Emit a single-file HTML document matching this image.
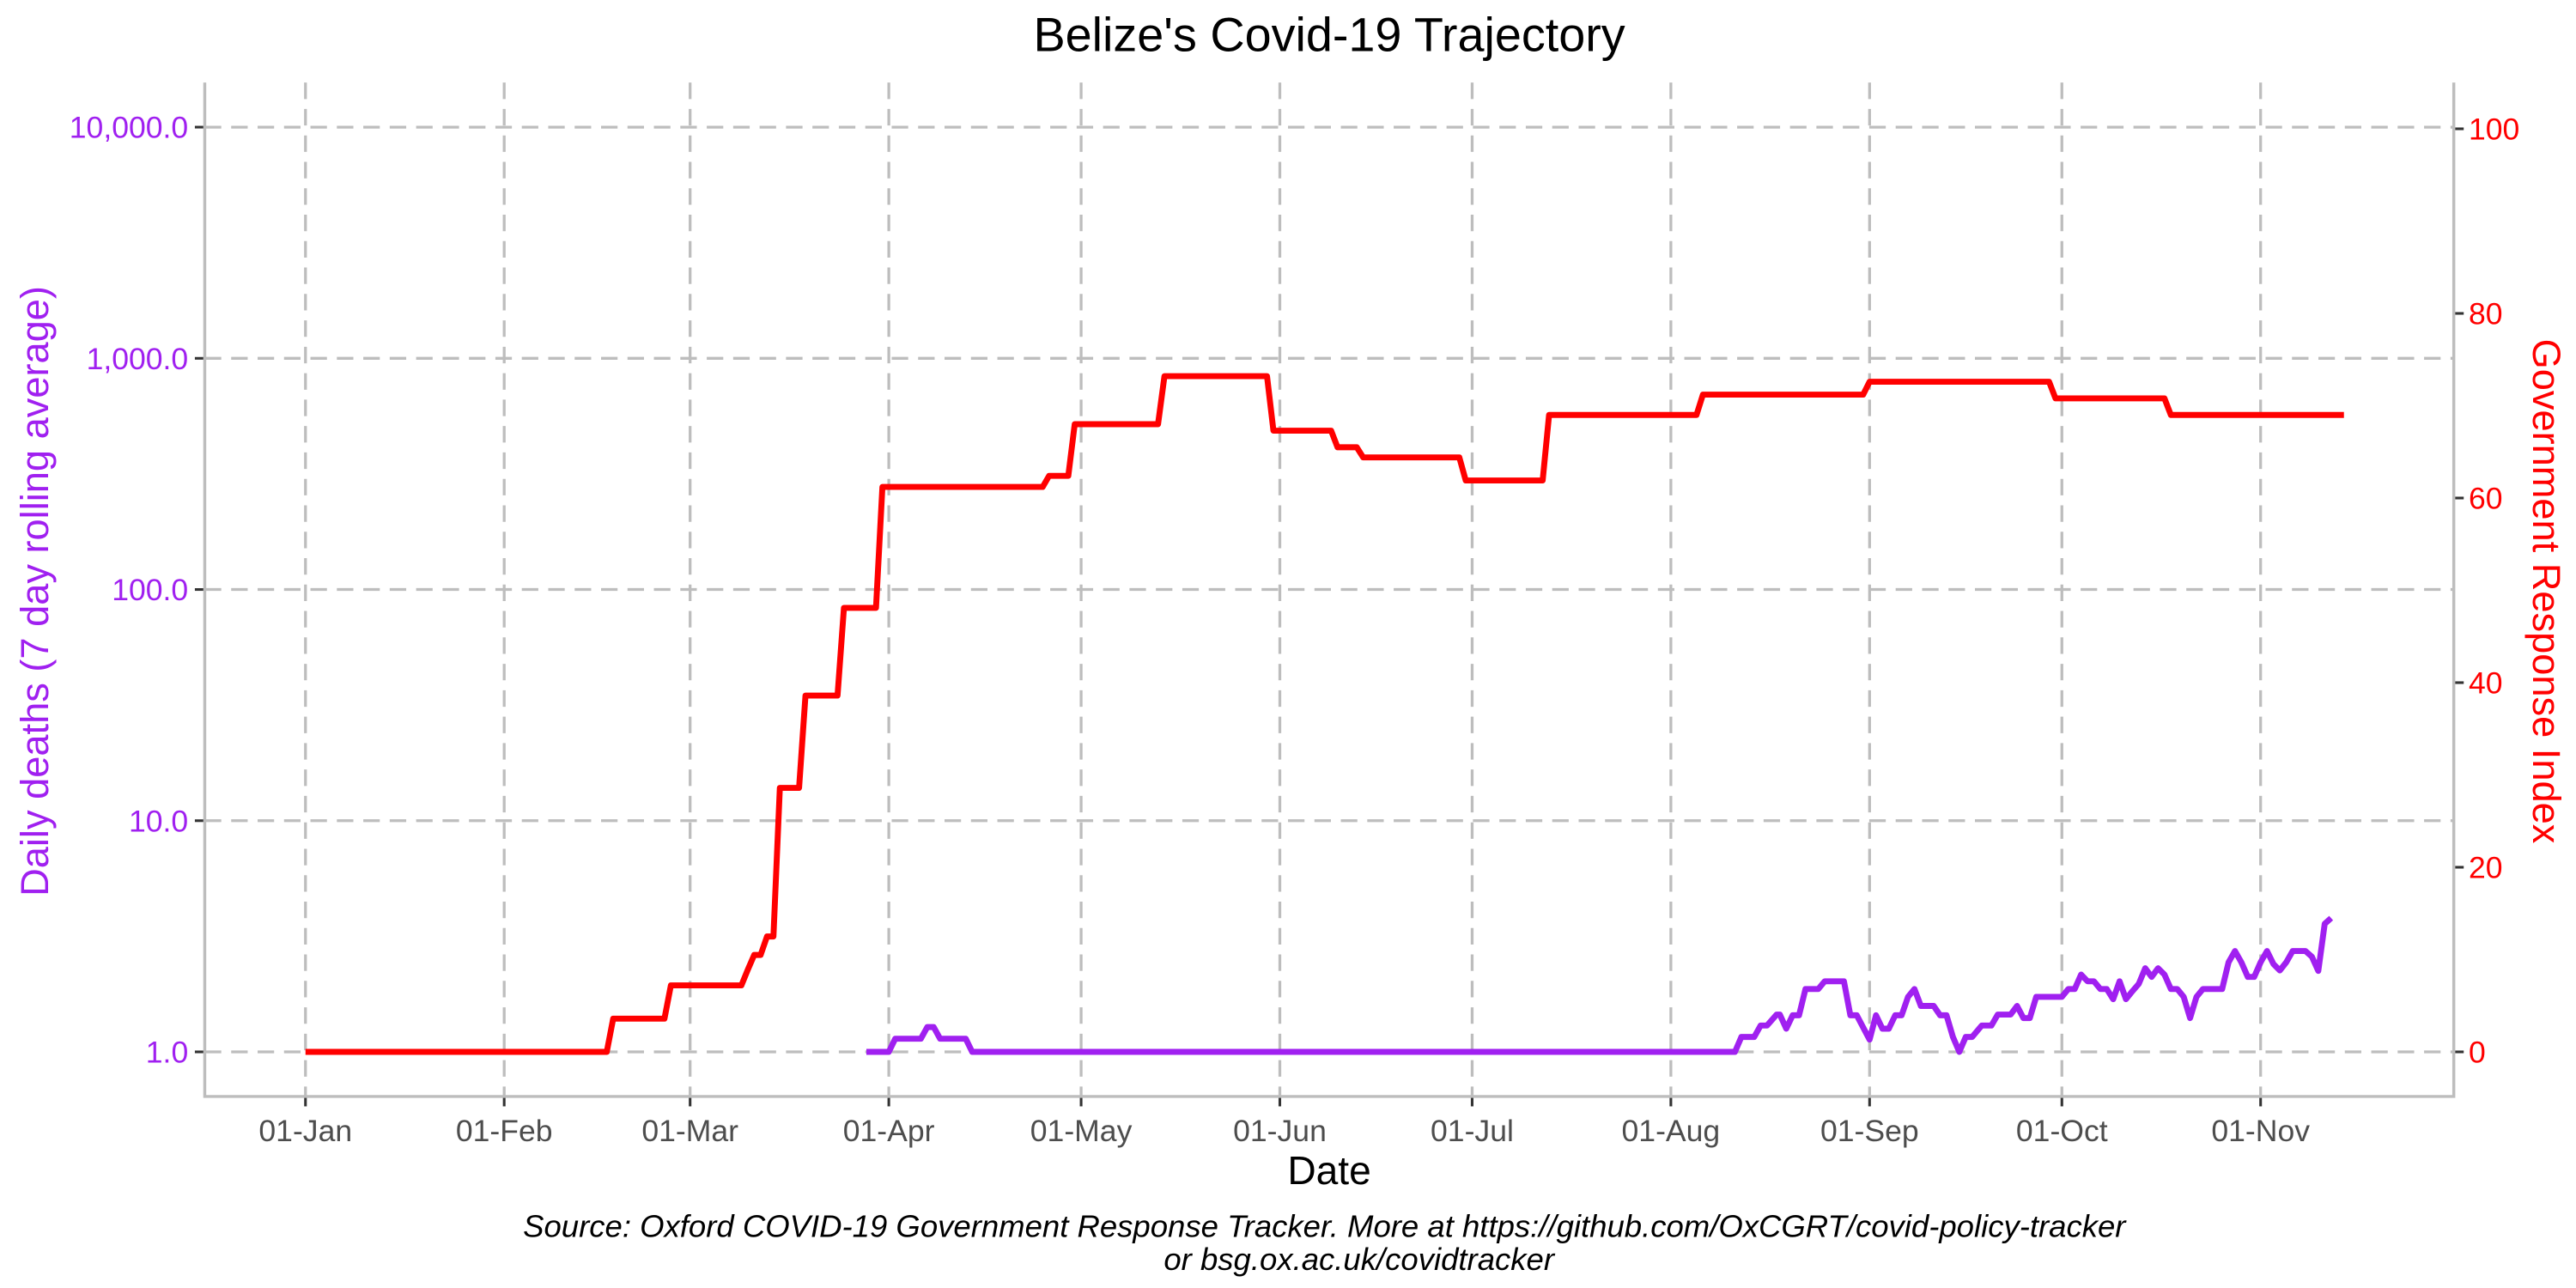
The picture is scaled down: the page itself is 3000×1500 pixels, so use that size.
<!DOCTYPE html>
<html><head><meta charset="utf-8"><style>
html,body{margin:0;padding:0;background:#fff;}
svg{display:block;font-family:"Liberation Sans",sans-serif;}
</style></head><body>
<svg id="chart" width="3000" height="1500" viewBox="0 0 1560 780" xmlns="http://www.w3.org/2000/svg">
<g id="grid"></g>
<g id="axes"></g>
<g id="series"></g>
<text x="805" y="31" font-size="29" text-anchor="middle" fill="#000">Belize's Covid-19 Trajectory</text>
<text x="805" y="717" font-size="24" text-anchor="middle" fill="#000">Date</text>
<text transform="translate(29,358) rotate(-90)" font-size="23.5" text-anchor="middle" fill="#a020f0">Daily deaths (7 day rolling average)</text>
<text transform="translate(1534,358) rotate(90)" font-size="23.5" text-anchor="middle" fill="#ff0000">Government Response Index</text>
<text x="802" y="749" font-size="19" font-style="italic" text-anchor="middle" fill="#000">Source: Oxford COVID-19 Government Response Tracker. More at https://github.com/OxCGRT/covid-policy-tracker</text>
<text x="823" y="769" font-size="19" font-style="italic" text-anchor="middle" fill="#000">or bsg.ox.ac.uk/covidtracker</text>
</svg>
<script>
// x ticks: day of year (2020) and label
const xTickDays = [0,31,60,91,121,152,182,213,244,274,305];
const xTickLabels = ["01-Jan","01-Feb","01-Mar","01-Apr","01-May","01-Jun","01-Jul","01-Aug","01-Sep","01-Oct","01-Nov"];
const leftTickValues = [1,10,100,1000,10000];
const leftTickLabels = ["1.0","10.0","100.0","1,000.0","10,000.0"];
const rightTickValues = [0,20,40,60,80,100];
// Stringency index: step changes (day of year, value)
const stringencyDays = [0,48,57,69,70,72,74,78,84,90,116,120,134,151,161,165,181,194,218,244,273,291,318];
const stringencyValues = [0,3.6,7.2,8.9,10.5,12.5,28.6,38.6,48.1,61.2,62.4,68.0,73.2,67.3,65.5,64.4,61.9,69.0,71.2,72.6,70.8,69.0,69.0];
// Daily deaths 7-day avg (day of year, value)
const deathDays = [87.5,91,92,96,97,98,99,103,104,223,224,226,227,228,229.5,230,231,232,233,234,236,237,240,241,242,244,245,246,247,248,249,250,251,252,254,255,256,257,258,259,260,261.5,263,264,266,267,268,269,270,274,275,276,277,278,279,280,281,282,283,284,285,286,287,288,289,290,291,292,293,294,295,296,299,300,301,302,303,304,305,306,307,308,309,310,312,313,314,315,316];
const deathValues = [1,1,1.14,1.14,1.28,1.28,1.14,1.14,1,1,1.16,1.16,1.30,1.30,1.45,1.45,1.26,1.44,1.44,1.87,1.87,2.02,2.02,1.44,1.44,1.13,1.44,1.26,1.26,1.44,1.44,1.73,1.87,1.58,1.58,1.44,1.44,1.16,1.0,1.16,1.16,1.30,1.30,1.45,1.45,1.58,1.40,1.40,1.73,1.73,1.87,1.87,2.16,2.02,2.02,1.87,1.87,1.69,2.02,1.69,1.83,1.97,2.30,2.11,2.30,2.16,1.87,1.87,1.73,1.40,1.73,1.87,1.87,2.44,2.73,2.44,2.11,2.11,2.44,2.73,2.40,2.25,2.44,2.73,2.73,2.58,2.24,3.58,3.79];

const NS="http://www.w3.org/2000/svg";
const L=124,R=1486,T=50,B=664;
const xS=d=>185+d*(1184/305);
const yLog=v=>637-140*Math.log10(v);
const yR=v=>637-v*5.59;
function mk(tag,attrs,parent){const e=document.createElementNS(NS,tag);for(const k in attrs)e.setAttribute(k,attrs[k]);parent.appendChild(e);return e;}
const grid=document.getElementById('grid'),axes=document.getElementById('axes'),series=document.getElementById('series');
const gstyle={stroke:"#bdbdbd","stroke-width":1.7,"stroke-dasharray":"10,6",fill:"none"};
xTickDays.forEach((d,i)=>{
  const x=xS(d);
  const g=mk('line',Object.assign({x1:x,x2:x,y1:T,y2:B},gstyle),grid);
  
  
  const t=mk('line',{x1:x,x2:x,y1:B,y2:B+6,stroke:"#333","stroke-width":1.6},axes);
  
  
  const lb=mk('text',{x:x,y:B+27,"font-size":18.5,"text-anchor":"middle",fill:"#4d4d4d"},axes);
  lb.textContent=xTickLabels[i];
  
  
});
leftTickValues.forEach((v,i)=>{
  const y=yLog(v);
  const g=mk('line',Object.assign({x1:L,x2:R,y1:y,y2:y},gstyle),grid);
  
  
  const t=mk('line',{x1:L-6,x2:L,y1:y,y2:y,stroke:"#333","stroke-width":1.6},axes);
  
  
  const lb=mk('text',{x:L-10,y:y+6.5,"font-size":18.5,"text-anchor":"end",fill:"#a020f0"},axes);
  lb.textContent=leftTickLabels[i];
  
  
});
rightTickValues.forEach(v=>{
  const y=yR(v);
  const t=mk('line',{x1:R,x2:R+6,y1:y,y2:y,stroke:"#333","stroke-width":1.6},axes);
  
  
  const lb=mk('text',{x:R+9,y:y+6.5,"font-size":18.5,"text-anchor":"start",fill:"#ff0000"},axes);
  lb.textContent=String(v);
  
  
});
const al=mk('polyline',{points:`${L},${T} ${L},${B} ${R},${B} ${R},${T}`,fill:"none",stroke:"#bdbdbd","stroke-width":1.8},axes);


let sp=[];
stringencyDays.forEach((d,i)=>{
  if(i>0){sp.push(xS(d-1)+","+yR(stringencyValues[i-1]));}
  sp.push(xS(d)+","+yR(stringencyValues[i]));
});
const sl=mk('polyline',{points:sp.join(' '),fill:"none",stroke:"#ff0000","stroke-width":3.6,"stroke-linejoin":"round"},series);


const dp=deathDays.map((d,i)=>xS(d)+","+yLog(deathValues[i])).join(' ');
const dl=mk('polyline',{points:dp,fill:"none",stroke:"#a020f0","stroke-width":3.6,"stroke-linejoin":"round"},series);


</script>
</body></html>
